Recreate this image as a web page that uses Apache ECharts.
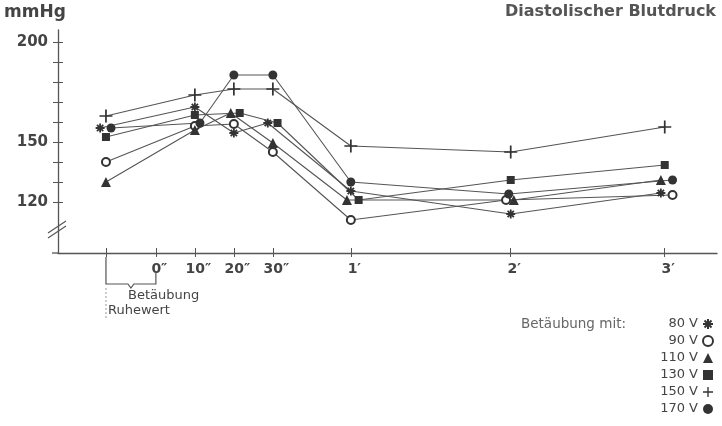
<!DOCTYPE html>
<html lang="de">
<head>
  <meta charset="utf-8">
  <style>
    html, body { margin: 0; padding: 0; background: #fff; }
    #container { width: 722px; height: 426px; }
  </style>
  <title>Diastolischer Blutdruck</title>
</head>
<body>
  <div id="container"></div>

  <script type="text/javascript" src="https://fastly.jsdelivr.net/npm/echarts@6.0.0/dist/echarts.min.js"></script>

  <script type="text/javascript">
    // time axis: 1 unit = 10 seconds, minutes compressed (as drawn in the original)
    var timeTicks = [-1.28, 0, 1, 2, 3, 5, 9.1, 13.05];
    var timeLabels = ['', '0″', '10″', '20″', '30″', '1′', '2′', '3′'];
    // measuring points: Ruhewert, 10", 20", 30", 1', 2', 3'
    var measurePos = [-1.28, 1, 2, 3, 5, 9.1, 13.05];

    var seriesNames = ['80 V', '90 V', '110 V', '130 V', '150 V', '170 V'];
    var v80  = [157, 167.5, 154.5, 159.5, 125.5, 114, 124.5];
    var v90  = [140, 158, 159, 145, 111, 121, 123.5];
    var v110 = [130, 156, 164.5, 149.5, 121, 121, 131];
    var v130 = [152.5, 163.5, 164.5, 159.5, 121, 131, 138.5];
    var v150 = [163, 173.5, 176.5, 176.5, 148, 145, 157.5];
    var v170 = [157, 159.5, 183.5, 183.5, 130, 124, 131];

    // small side shifts the original uses where markers would overlap
    var n80  = [-0.15, 0, 0, -0.13, 0, 0, -0.1];
    var n90  = [0, 0, 0, 0, 0, -0.12, 0.2];
    var n110 = [0, 0, -0.08, 0, -0.1, 0.08, -0.1];
    var n130 = [0, 0, 0.15, 0.12, 0.2, 0, 0];
    var n150 = [0, 0, 0, 0, 0, 0, 0];
    var n170 = [0.13, 0.13, 0, 0, 0, -0.05, 0.2];

    var yTicks = [120, 130, 140, 150, 160, 170, 180, 190, 200];
    var yLabels = [120, 150, 200];

    var asterisk = 'path://M-1,-5h2v10h-2z M-5,-1h10v2h-10z M-2.8,-4.2L4.2,2.8L2.8,4.2L-4.2,-2.8z M2.8,-4.2L4.2,-2.8L-2.8,4.2L-4.2,2.8z';
    var plus = 'path://M-0.8,-6h1.6v12h-1.6z M-6,-0.8h12v1.6h-12z';

    var symbols = [asterisk, 'emptyCircle', 'triangle', 'rect', plus, 'circle'];
    var symbolSizes = [9, 8, 10, 8, 13, 9];
    var values = [v80, v90, v110, v130, v150, v170];
    var nudges = [n80, n90, n110, n130, n150, n170];

    var chartDom = document.getElementById('container');
    var myChart = echarts.init(chartDom);

    var axisColor = '#555';
    var textColor = '#444';

    function pairs(vals, nudge) {
      return vals.map(function (v, i) {
        return [measurePos[i] + nudge[i], v];
      });
    }

    var option = {
      animation: false,
      grid: { left: 58, right: 5, top: 30, bottom: 173, containLabel: false },
      xAxis: [{
        type: 'value',
        min: -2.51,
        max: 14.39,
        position: 'bottom',
        splitLine: { show: false },
        axisLine: { onZero: false, lineStyle: { color: axisColor, width: 1.3 } },
        axisTick: { customValues: timeTicks, length: 4, lineStyle: { color: axisColor } },
        axisLabel: {
          customValues: timeTicks.slice(1),
          margin: 9,
          padding: [0, 0, 0, 7],
          color: textColor,
          fontFamily: 'DejaVu Sans',
          fontWeight: 'bold',
          fontSize: 14,
          formatter: function (v) {
            var i = timeTicks.indexOf(v);
            return i >= 0 ? timeLabels[i] : '';
          }
        }
      }, {
        type: 'value',
        min: -2.51,
        max: 14.39,
        position: 'bottom',
        splitLine: { show: false },
        axisLine: { show: false, onZero: false },
        axisTick: { customValues: timeTicks, inside: true, length: 5, lineStyle: { color: axisColor } },
        axisLabel: { show: false }
      }],
      yAxis: [{
        type: 'value',
        min: 94.5,
        max: 206,
        position: 'left',
        splitLine: { show: false },
        axisLine: { show: true, onZero: false, lineStyle: { color: axisColor, width: 1.3 } },
        axisTick: { customValues: yTicks, length: 5, lineStyle: { color: axisColor } },
        axisLabel: {
          customValues: yLabels,
          margin: 10,
          color: textColor,
          fontFamily: 'DejaVu Sans',
          fontWeight: 'bold',
          fontSize: 15
        }
      }, {
        type: 'value',
        min: 94.5,
        max: 206,
        position: 'left',
        offset: 0,
        splitLine: { show: false },
        axisLine: { show: false, onZero: false },
        axisTick: { customValues: yTicks, inside: true, length: 5, lineStyle: { color: axisColor } },
        axisLabel: { show: false }
      }],
      legend: {
        orient: 'vertical',
        right: 8,
        top: 317,
        padding: 0,
        align: 'right',
        itemWidth: 10,
        itemHeight: 10,
        itemGap: 3,
        textStyle: {
          color: textColor,
          fontFamily: 'DejaVu Sans',
          fontSize: 13,
          lineHeight: 14,
          width: 40,
          align: 'right'
        },
        data: seriesNames.map(function (name, i) {
          return { name: name, icon: symbols[i] };
        })
      },
      series: seriesNames.map(function (name, i) {
        return {
          name: name,
          type: 'line',
          data: pairs(values[i], nudges[i]),
          symbol: symbols[i],
          symbolSize: symbolSizes[i],
          showAllSymbol: true,
          lineStyle: { color: '#555', width: 1.1 },
          itemStyle: { color: '#333' },
          emphasis: { disabled: true },
          z: 3
        };
      })
    };

    myChart.setOption(option);

    // bracket under the resting value, axis break marks
    var xr = myChart.convertToPixel({ xAxisIndex: 0 }, measurePos[0]);
    var x0 = myChart.convertToPixel({ xAxisIndex: 0 }, 0);
    var yAx = myChart.convertToPixel({ yAxisIndex: 0 }, 94.5);
    var yBreak = myChart.convertToPixel({ yAxisIndex: 0 }, 107);
    var xAx = myChart.convertToPixel({ xAxisIndex: 0 }, -2.51);
    var mid = (xr + x0) / 2;
    var yb = yAx + 31;

    myChart.setOption({
      graphic: [{
        type: 'text',
        left: 4,
        top: 4,
        style: { text: 'mmHg', fill: textColor, font: 'bold 17px "DejaVu Sans"' }
      }, {
        type: 'text',
        right: 6,
        top: 4,
        style: { text: 'Diastolischer Blutdruck', fill: '#555', font: 'bold 16px "DejaVu Sans"' }
      }, {
        type: 'text',
        left: 521,
        top: 317,
        style: { text: 'Betäubung mit:', fill: '#666', font: '13.5px "DejaVu Sans"' }
      }, {
        type: 'line',
        shape: { x1: xAx - 6, y1: yAx, x2: xAx, y2: yAx },
        style: { stroke: axisColor, lineWidth: 1.3 }
      }, {
        type: 'polyline',
        shape: { points: [[xr, yAx + 4], [xr, yb], [mid - 3, yb], [mid, yb + 4], [mid + 3, yb], [x0, yb], [x0, yAx + 20]] },
        style: { stroke: '#555', lineWidth: 1.2, fill: null }
      }, {
        type: 'line',
        shape: { x1: xr, y1: yb + 4, x2: xr, y2: yb + 34 },
        style: { stroke: '#999', lineWidth: 1, lineDash: [2, 2] }
      }, {
        type: 'text',
        x: xr + 22,
        y: yb + 12,
        style: { text: 'Betäubung', fill: textColor, font: '13px "DejaVu Sans"', verticalAlign: 'middle' }
      }, {
        type: 'text',
        x: xr + 2,
        y: yb + 27,
        style: { text: 'Ruhewert', fill: textColor, font: '13px "DejaVu Sans"', verticalAlign: 'middle' }
      }, {
        type: 'line',
        shape: { x1: xAx - 10, y1: yBreak + 5, x2: xAx + 8, y2: yBreak - 7 },
        style: { stroke: '#555', lineWidth: 1.2 }
      }, {
        type: 'line',
        shape: { x1: xAx - 10, y1: yBreak + 10, x2: xAx + 8, y2: yBreak - 2 },
        style: { stroke: '#555', lineWidth: 1.2 }
      }]
    });
  </script>
</body>
</html>
